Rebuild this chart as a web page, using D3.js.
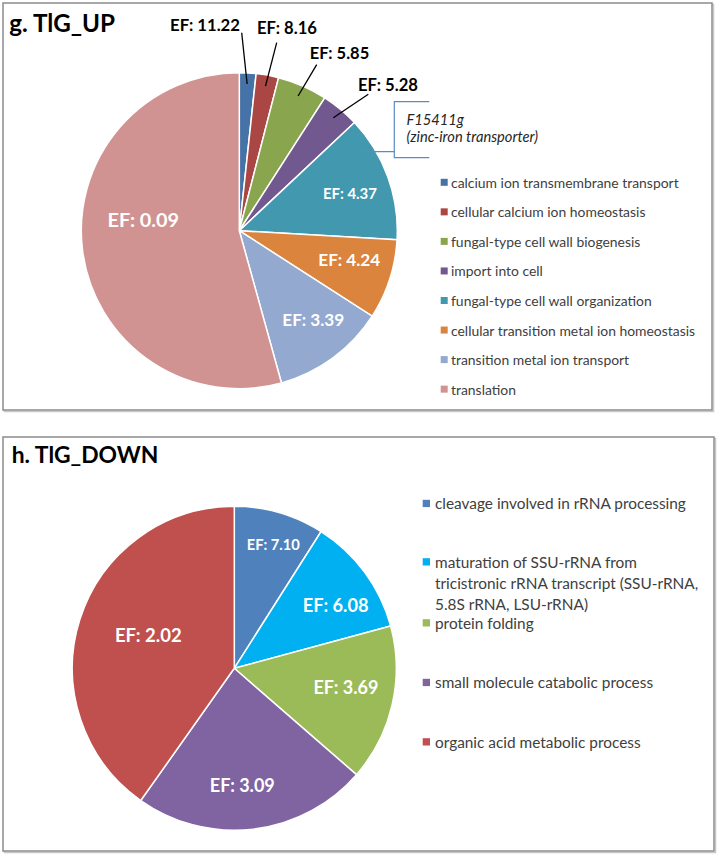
<!DOCTYPE html>
<html><head><meta charset="utf-8">
<script src="https://cdn.jsdelivr.net/npm/d3@7/dist/d3.min.js"></script>
<style>body{margin:0;background:#fff}svg{display:block}text{font-family:Lato,"Open Sans",sans-serif}</style>
</head><body><svg id="c" width="719" height="855"></svg>
<script>
// ---- data: panel g (TlG_UP)
const upCategories = ["calcium ion transmembrane transport","cellular calcium ion homeostasis","fungal-type cell wall biogenesis","import into cell","fungal-type cell wall organization","cellular transition metal ion homeostasis","transition metal ion transport","translation"];
const upShares = [1.7, 2.3, 5.1, 3.9, 12.9, 8.2, 11.6, 54.3];
const upEF = ["11.22","8.16","5.85","5.28","4.37","4.24","3.39","0.09"];
const upColors = ["#4572A7","#AA4643","#89A54E","#71588F","#4198AF","#DB843D","#93A9CF","#D19392"];
// ---- data: panel h (TlG_DOWN)
const downCategories = [["cleavage involved in rRNA processing"],["maturation of SSU-rRNA from","tricistronic rRNA transcript (SSU-rRNA,","5.8S rRNA, LSU-rRNA)"],["protein folding"],["small molecule catabolic process"],["organic acid metabolic process"]];
const downShares = [9.0, 11.8, 15.6, 23.4, 40.2];
const downEF = ["7.10","6.08","3.69","3.09","2.02"];
const downColors = ["#4F81BD","#00B0F0","#9BBB59","#8064A2","#C0504D"];

// ---- layout (label placement relative to pie centre; w = rendered text width)
const upLabelLayout = [
  {out:true, tx:-34.3, ty:-205.7, lx:2.4, ly:-198, w:70},
  {out:true, tx:47.7, ty:-203.2, lx:37.4, ly:-188, w:60},
  {out:true, tx:100.2, ty:-177.4, lx:77.4, ly:-166, w:59.5},
  {out:true, tx:148.7, ty:-145.7, lx:129, ly:-136.4, w:60},
  {out:false, tx:110.7, ty:-37.4, w:54},
  {out:false, tx:110, ty:29.3, w:62},
  {out:false, tx:74, ty:89.3, w:62},
  {out:false, tx:-96, ty:-11.4, w:71.7}
];
const downLabelLayout = [
  {tx:39, ty:-124.3, w:53},
  {tx:101.4, ty:-63.3, w:65.7},
  {tx:111.7, ty:18.4, w:65},
  {tx:8, ty:116.7, w:65},
  {tx:-86, ty:-33.3, w:66.7}
];

const svg = d3.select("#c");

// scale a text's font so that it renders at the given width
function fit(sel, w){
  const base = 20;
  sel.attr("font-size", base);
  const m = sel.node().getComputedTextLength();
  const fs = base * w / m;
  sel.attr("font-size", fs);
  return fs;
}

function panel(x,y,w,h){
  svg.append("rect").attr("x",x+1.5).attr("y",y+1.5).attr("width",w).attr("height",h)
    .attr("fill","none").attr("stroke","#c8c8c8").attr("stroke-width",1.5);
  svg.append("rect").attr("x",x).attr("y",y).attr("width",w).attr("height",h)
    .attr("fill","#fff").attr("stroke","#8c8c8c").attr("stroke-width",1.5);
}
panel(3,3,709,407);
panel(3,437,711,414);

fit(svg.append("text").attr("x",9.3).attr("y",32).attr("font-weight","bold").attr("fill","#000").text("g. TlG_UP"), 105.7);
fit(svg.append("text").attr("x",11.7).attr("y",463.3).attr("font-weight","bold").attr("fill","#000").text("h. TlG_DOWN"), 146.7);

const pie = d3.pie().sort(null).value(d=>d);

// ---- pie g
{
  const cx=239.3, cy=230.7, r=158;
  const g = svg.append("g").attr("transform",`translate(${cx},${cy})`);
  const arcs = pie(upShares);
  const arc = d3.arc().innerRadius(0).outerRadius(r);
  g.selectAll("path").data(arcs).join("path").attr("d",arc)
    .attr("fill",(d,i)=>upColors[i]).attr("stroke","#fff").attr("stroke-width",1.5);
  const inner = d3.arc().innerRadius(r*0.93).outerRadius(r*0.93);
  arcs.forEach((a,i)=>{
    const L = upLabelLayout[i];
    if(L.out){
      const p = inner.centroid(a);
      g.append("line").attr("x1",L.lx).attr("y1",L.ly).attr("x2",p[0]).attr("y2",p[1])
        .attr("stroke","#000").attr("stroke-width",1.3);
    }
    fit(g.append("text").attr("x",L.tx).attr("y",L.ty).attr("text-anchor","middle").attr("dominant-baseline","central")
      .attr("font-weight","bold").attr("fill",L.out?"#000":"#fff")
      .text("EF: "+upEF[i]), L.w);
  });
  // annotation bracket for teal slice
  const ann = svg.append("g");
  const bc = "#5b8bc4";
  ann.append("path").attr("d","M429.3,101.7 H394.3 V157.7 H429.3").attr("fill","none").attr("stroke",bc).attr("stroke-width",1.2);
  ann.append("line").attr("x1",361.7).attr("y1",151.7).attr("x2",394.3).attr("y2",151.7).attr("stroke",bc).attr("stroke-width",1.2);
  const t2 = ann.append("text").attr("x",406.5).attr("y",141.5).attr("font-style","italic").attr("fill","#262626").text("(zinc-iron transporter)");
  const afs = fit(t2, 131.7);
  ann.append("text").attr("x",406.5).attr("y",125).attr("font-size",afs).attr("font-style","italic").attr("fill","#262626").text("F15411g");
  // legend
  const lg = svg.append("g");
  let lfs = null;
  upCategories.forEach((c,i)=>{
    const y = 182.3 + i*29.55;
    lg.append("rect").attr("x",440.7).attr("y",y-3.5).attr("width",7).attr("height",7).attr("fill",upColors[i]);
    const t = lg.append("text").attr("x",451).attr("y",y).attr("dominant-baseline","central").attr("fill","#404040").text(c);
    if(i===0) lfs = fit(t, 228); else t.attr("font-size", lfs);
  });
}

// ---- pie h
{
  const cx=234.3, cy=668.3, r=162;
  const g = svg.append("g").attr("transform",`translate(${cx},${cy})`);
  const arcs = pie(downShares);
  const arc = d3.arc().innerRadius(0).outerRadius(r);
  g.selectAll("path").data(arcs).join("path").attr("d",arc)
    .attr("fill",(d,i)=>downColors[i]).attr("stroke","#fff").attr("stroke-width",1.5);
  arcs.forEach((a,i)=>{
    const L = downLabelLayout[i];
    fit(g.append("text").attr("x",L.tx).attr("y",L.ty).attr("text-anchor","middle").attr("dominant-baseline","central")
      .attr("font-weight","bold").attr("fill","#fff").text("EF: "+downEF[i]), L.w);
  });
  const legY = [503.3, 561.7, 622.7, 682.3, 741.7];
  const lg = svg.append("g");
  let lfs = null;
  downCategories.forEach((lines,i)=>{
    const y = legY[i];
    lg.append("rect").attr("x",422.7).attr("y",y-3.5).attr("width",7.3).attr("height",7.3).attr("fill",downColors[i]);
    lines.forEach((t,j)=>{
      const tx = lg.append("text").attr("x",435).attr("y",y+j*21.3).attr("dominant-baseline","central").attr("fill","#404040").text(t);
      if(i===0) lfs = fit(tx, 251); else tx.attr("font-size", lfs);
    });
  });
}
</script></body></html>
